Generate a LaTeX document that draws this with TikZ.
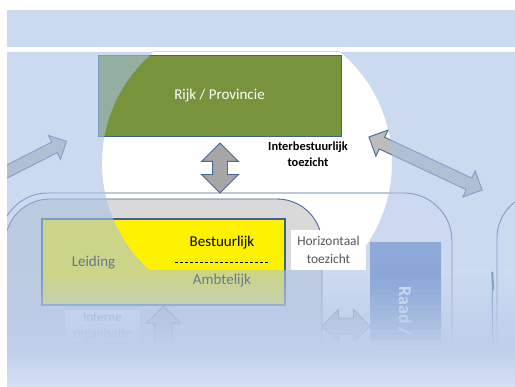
\documentclass[tikz,border=0pt]{standalone}
\usepackage{fontspec}
\setmainfont{Carlito}
\usetikzlibrary{shapes.arrows}
\definecolor{rijkgreen}{RGB}{119,147,60}
\definecolor{boxrim}{RGB}{62,96,146}
\definecolor{rimblue}{RGB}{72,104,152}
\definecolor{innergray}{RGB}{217,217,217}
\definecolor{arrowgray}{RGB}{188,188,188}
\definecolor{arrowdark}{RGB}{166,166,166}
\definecolor{bandblue}{RGB}{204,218,240}
\definecolor{veilblue}{RGB}{170,193,230}
\definecolor{lowblue}{RGB}{192,207,234}
\definecolor{bottomblue}{RGB}{214,224,243}
\definecolor{raadtop}{RGB}{105,138,200}
\definecolor{raadbottom}{RGB}{50,88,170}
\definecolor{labelgray}{RGB}{85,85,85}
\tikzset{
  slidebox/.style={draw=boxrim, line width=0.8pt, inner sep=0pt},
  blockarrow/.style={draw=rimblue, line width=0.9pt, fill=arrowgray, inner xsep=0pt, minimum width=0pt},
  rimline/.style={draw=rimblue, line width=0.9pt},
  veil/.style={fill=veilblue, fill opacity=0.6},
  calib/.style={font=\fontsize{15}{18}\selectfont, inner sep=0pt}
}
\begin{document}
\begin{tikzpicture}[x=1pt, y=-1pt]
  \useasboundingbox (0,0) rectangle (515,387);
  \fill[bandblue] (7,10) rectangle (515,47);
  \coordinate (spot) at (247,163);
  \begin{scope}
    \clip (7,52) rectangle (515,387);
    \draw[rimline, fill=white, rounded corners=48pt] (0,193) rectangle (452,430);
    \draw[rimline, fill=innergray, rounded corners=45pt] (5,199) rectangle (322,430);
    \draw[rimline, rounded corners=45pt] (497,193) rectangle (600,430);
    \node[fill=white, minimum width=39pt, minimum height=11pt, inner sep=0pt] (tab) at (472.5,277.5) {};
    \draw[rimline] (tab.north east) -- ++(1,160);
    \draw[rimline, line width=2pt] (tab.north east) -- ++(1,18);

    \node[slidebox, fill=rijkgreen, text=white, minimum width=243pt, minimum height=81pt, calib] (rijk) at (219.5,95.5) {Rijk / Provincie};
    \node[blockarrow, double arrow, fill=arrowdark, rotate=90, minimum height=50pt, inner ysep=7pt, double arrow head extend=11pt] (rijklink) at (220,168) {};
    \node[blockarrow, single arrow, rotate=27, anchor=tip, minimum height=85pt, inner ysep=5.5pt, single arrow head extend=7.5pt] (leftlink) at (67,141) {};
    \node[blockarrow, double arrow, rotate=-25.1, minimum height=125pt, inner ysep=6pt, double arrow head extend=8pt] (rightlink) at (425.5,163.5) {};

    \node[slidebox, line width=1.1pt, fill=yellow, minimum width=243pt, minimum height=86pt] (leiding) at (163.5,262) {};
    \node[calib] (bestuur) at (222,243) {Bestuurlijk};
    \node[calib] (ambt) at (222,281) {Ambtelijk};
    \node[calib] (leid) at (93.5,263) {Leiding};
    \draw[densely dashed, line width=0.5pt] (175,262) -- (270,262);

    \node[top color=raadtop, bottom color=raadbottom, minimum width=71pt, minimum height=188pt, inner sep=0pt, anchor=north west] (raad) at (370,242) {};
    \node[font=\fontsize{18}{20}\selectfont\bfseries, text=white, rotate=-90, anchor=west, inner sep=0pt] (raadtxt) at (405,286) {Raad /};
    \node[fill=white, minimum width=75pt, minimum height=32pt, inner sep=0pt, text=gray, font=\fontsize{13}{16}\selectfont, align=center] (intern) at (102.5,326) {Interne\\organisatie};
    \node[blockarrow, single arrow, rotate=90, anchor=tip, minimum height=50pt, inner ysep=8.5pt, single arrow head extend=8pt] (uplink) at (leiding.south) {};
    \node[blockarrow, double arrow, minimum height=48pt, inner ysep=7.5pt, double arrow head extend=8.5pt] (sidelink) at (346,326) {};

    \begin{scope}
      \clip (7,52) rectangle (515,270);
      \fill[veil, even odd rule] (7,52) rectangle (515,270) (spot) circle (145pt);
    \end{scope}
    \foreach \i [evaluate=\i as \op using 0.58+0.028*\i, evaluate=\i as \pc using 100*\i/15] in {0,...,15}
      \fill[fill=lowblue!\pc!veilblue, fill opacity=\op] (7,{270+5*\i}) rectangle (515,{275+5*\i});
    \shade[top color=lowblue, bottom color=bottomblue] (7,350) rectangle (515,387);
  \end{scope}

  \node[fill=white, minimum width=75pt, minimum height=40pt, inner sep=0pt, align=center, text=labelgray, font=\fontsize{13.4}{18}\selectfont] (horiz) at (328.5,250) {Horizontaal\\toezicht};
  \node[align=center, inner sep=0pt, font=\fontsize{12.4}{16}\selectfont\bfseries] (inter) at (308,154) {Interbestuurlijk\\toezicht};
\end{tikzpicture}
\end{document}
